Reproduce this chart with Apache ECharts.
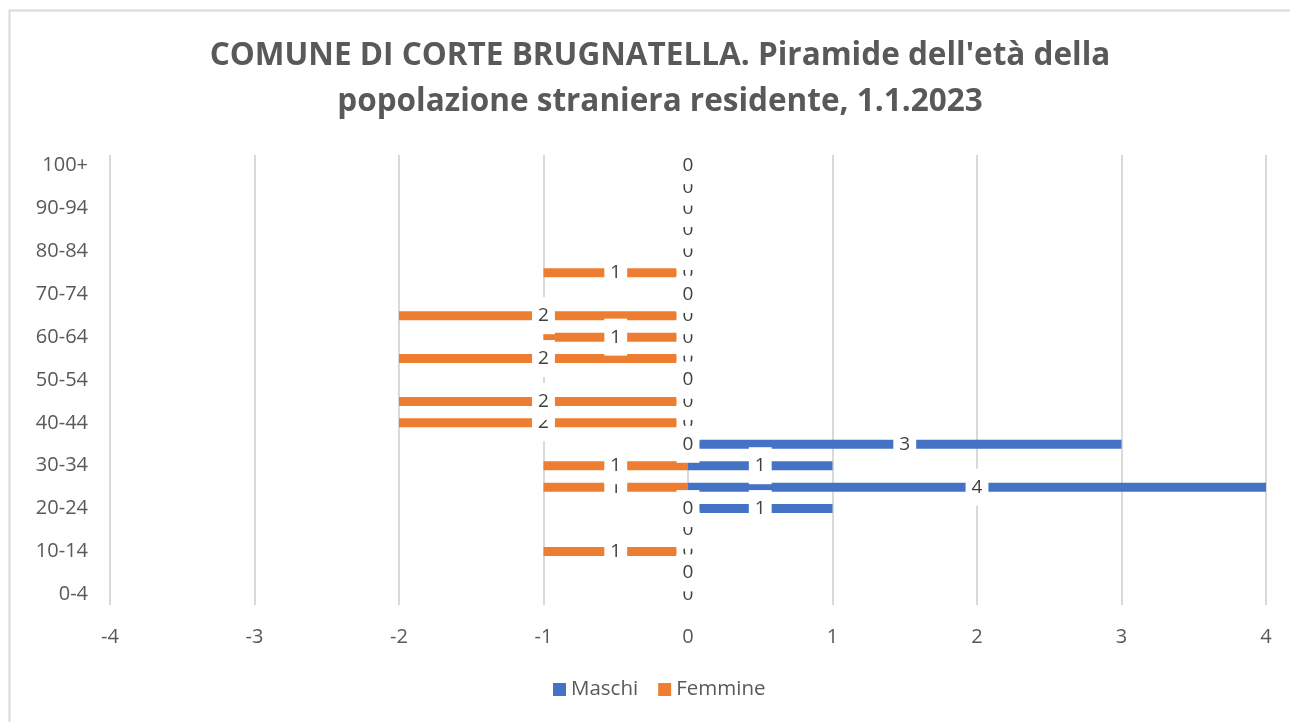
<!DOCTYPE html>
<html>
<head>
<meta charset="utf-8">
<script src="https://cdn.jsdelivr.net/npm/echarts@6/dist/echarts.min.js"></script>
<style>
    html, body { margin: 0; padding: 0; background: #fff; }
    #chart { width: 1290px; height: 722px; }
</style>
</head>
<body>
<div id="chart"></div>
<script>
// age classes, bottom to top
var ages = ["0-4", "5-9", "10-14", "15-19", "20-24", "25-29", "30-34", "35-39", "40-44", "45-49",
    "50-54", "55-59", "60-64", "65-69", "70-74", "75-79", "80-84", "85-89", "90-94", "95-99", "100+"];
var maschi = [0, 0, 0, 0, 1, 4, 1, 3, 0, 0, 0, 0, 0, 0, 0, 0, 0, 0, 0, 0, 0];
var femmine = [0, 0, 1, 0, 0, 1, 1, 0, 2, 2, 0, 2, 1, 2, 0, 1, 0, 0, 0, 0, 0];
var xTicks = [-4, 4, 1];

var FONT = "Open Sans";
var chart = echarts.init(document.querySelector("#chart"));

// shared label look (white box like the excel data labels)
function barLabel() {
    return {
        show: true,
        position: "inside",
        formatter: function (p) { return Math.abs(p.value); },
        color: "#404040",
        fontFamily: FONT,
        fontSize: 19,
        backgroundColor: "#fff",
        padding: [9, 6]
    };
}

var option = {
    animation: false,
    textStyle: { fontFamily: FONT },
    title: {
        text: "COMUNE DI CORTE BRUGNATELLA. Piramide dell'età della\npopolazione straniera residente, 1.1.2023",
        left: 655,
        textAlign: "center",
        top: 28,
        textStyle: {
            color: "#595959",
            fontFamily: FONT,
            fontWeight: "bold",
            fontSize: 31.5,
            lineHeight: 46
        }
    },
    legend: {
        data: ["Maschi", "Femmine"],
        bottom: 17,
        left: 548,
        icon: "rect",
        itemWidth: 13,
        itemHeight: 13,
        itemGap: 20,
        textStyle: { color: "#595959", fontSize: 20.5, fontFamily: FONT }
    },
    grid: { left: 110, right: 24, top: 155, bottom: 117, containLabel: false },
    xAxis: {
        type: "value",
        min: xTicks[0],
        max: xTicks[1],
        interval: xTicks[2],
        axisLine: { show: false },
        axisTick: { show: false },
        axisLabel: { color: "#595959", fontSize: 20, margin: 22 },
        splitLine: { show: true, lineStyle: { color: "#d9d9d9", width: 2 } }
    },
    yAxis: {
        type: "category",
        data: ages,
        axisLine: { show: false },
        axisTick: { show: false },
        axisLabel: { color: "#595959", fontSize: 20, interval: 1, margin: 22 }
    },
    series: [
        {
            name: "Maschi",
            type: "bar",
            data: maschi,
            barWidth: 9,
            barGap: "-100%",
            itemStyle: { color: "#4472c4" },
            label: barLabel()
        },
        {
            name: "Femmine",
            type: "bar",
            data: femmine.map(function (v) { return -v; }),
            barWidth: 9,
            barGap: "-100%",
            itemStyle: { color: "#ed7d31" },
            label: barLabel()
        }
    ],
    graphic: [{
        type: "rect",
        shape: { x: 9.5, y: 10.5, width: 1300, height: 800 },
        style: { fill: null, stroke: "#d9d9d9", lineWidth: 2 },
        silent: true
    }]
};

chart.setOption(option);
</script>
</body>
</html>
